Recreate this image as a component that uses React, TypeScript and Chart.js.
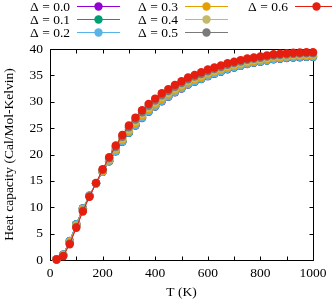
import React, { useEffect, useRef } from "react";
import { Chart, registerables } from "chart.js";

Chart.register(...registerables);

const temps = [25, 50, 75, 100, 125, 150, 175, 200, 225, 250, 275, 300, 325, 350, 375, 400, 425, 450, 475, 500, 525, 550, 575, 600, 625, 650, 675, 700, 725, 750, 775, 800, 825, 850, 875, 900, 925, 950, 975, 1000];

const d00 = [0.15, 1.0, 3.6, 6.8, 9.8, 12.2, 14.5, 16.7, 18.7, 20.6, 22.4, 24.1, 25.5, 26.9, 28.1, 29.1, 30.1, 30.95, 31.8, 32.5, 33.25, 33.8, 34.3, 34.85, 35.3, 35.7, 36.15, 36.5, 36.8, 37.15, 37.4, 37.6, 37.8, 38.05, 38.15, 38.3, 38.4, 38.45, 38.5, 38.5];
const d01 = [0.15, 0.99, 3.58, 6.78, 9.78, 12.19, 14.5, 16.72, 18.72, 20.63, 22.44, 24.14, 25.55, 26.95, 28.15, 29.15, 30.15, 30.99, 31.84, 32.54, 33.29, 33.84, 34.34, 34.89, 35.34, 35.74, 36.18, 36.53, 36.83, 37.18, 37.43, 37.63, 37.83, 38.08, 38.18, 38.33, 38.43, 38.48, 38.53, 38.53];
const d02 = [0.15, 0.98, 3.56, 6.75, 9.76, 12.19, 14.51, 16.73, 18.76, 20.68, 22.49, 24.2, 25.6, 27.0, 28.2, 29.2, 30.2, 31.05, 31.9, 32.6, 33.34, 33.89, 34.39, 34.94, 35.38, 35.78, 36.23, 36.58, 36.88, 37.22, 37.47, 37.67, 37.87, 38.12, 38.22, 38.36, 38.46, 38.51, 38.56, 38.56];
const d03 = [0.14, 0.92, 3.43, 6.6, 9.63, 12.14, 14.53, 16.84, 18.92, 20.91, 22.76, 24.49, 25.92, 27.32, 28.52, 29.52, 30.52, 31.36, 32.19, 32.89, 33.63, 34.16, 34.66, 35.2, 35.64, 36.04, 36.47, 36.81, 37.11, 37.44, 37.68, 37.88, 38.08, 38.32, 38.42, 38.55, 38.65, 38.7, 38.75, 38.75];
const d04 = [0.13, 0.85, 3.3, 6.45, 9.5, 12.1, 14.55, 16.95, 19.1, 21.15, 23.05, 24.8, 26.25, 27.65, 28.85, 29.85, 30.85, 31.67, 32.5, 33.2, 33.92, 34.45, 34.95, 35.47, 35.9, 36.3, 36.72, 37.05, 37.35, 37.67, 37.9, 38.1, 38.3, 38.52, 38.62, 38.75, 38.85, 38.9, 38.95, 38.95];
const d05 = [0.11, 0.78, 3.15, 6.28, 9.35, 12.05, 14.57, 17.07, 19.3, 21.42, 23.37, 25.15, 26.62, 28.02, 29.22, 30.22, 31.22, 32.04, 32.85, 33.55, 34.26, 34.77, 35.27, 35.79, 36.2, 36.6, 37.01, 37.32, 37.62, 37.94, 38.15, 38.35, 38.55, 38.76, 38.86, 38.97, 39.07, 39.12, 39.17, 39.17];
const d06 = [0.1, 0.7, 3.0, 6.1, 9.2, 12.0, 14.6, 17.2, 19.5, 21.7, 23.7, 25.5, 27.0, 28.4, 29.6, 30.6, 31.6, 32.4, 33.2, 33.9, 34.6, 35.1, 35.6, 36.1, 36.5, 36.9, 37.3, 37.6, 37.9, 38.2, 38.4, 38.6, 38.8, 39.0, 39.1, 39.2, 39.3, 39.35, 39.4, 39.4];

const seriesLabels = ["Δ = 0.0", "Δ = 0.1", "Δ = 0.2", "Δ = 0.3", "Δ = 0.4", "Δ = 0.5", "Δ = 0.6"];
const seriesValues = [d00, d01, d02, d03, d04, d05, d06];
const seriesColors = ["#9400d3", "#009e73", "#56b4e9", "#e69f00", "#c4b86a", "#7a7a7a", "#e51e10"];

const xTicks = [0, 200, 400, 600, 800, 1000];
const yTicks = [0, 5, 10, 15, 20, 25, 30, 35, 40];

const FONT = "'Liberation Serif', 'Times New Roman', serif";
const FS = 13.5;

const framePlugin = {
  id: "frame",
  beforeDatasetsDraw(chart: any) {
    const { ctx, chartArea, scales } = chart;
    const { left, right, top, bottom } = chartArea;
    ctx.save();
    ctx.strokeStyle = "#000";
    ctx.lineWidth = 1;
    const L = Math.round(left) + 0.5;
    const R = Math.round(right) + 0.5;
    const T = Math.round(top) + 0.5;
    const B = Math.round(bottom) + 0.5;
    ctx.beginPath();
    ctx.rect(L, T, R - L, B - T);
    ctx.stroke();
    const tl = 4;
    ctx.beginPath();
    scales.x.ticks.forEach((t: any) => {
      const px = Math.round(scales.x.getPixelForValue(t.value)) + 0.5;
      ctx.moveTo(px, B);
      ctx.lineTo(px, B - tl);
      ctx.moveTo(px, T);
      ctx.lineTo(px, T + tl);
    });
    scales.y.ticks.forEach((t: any) => {
      const py = Math.round(scales.y.getPixelForValue(t.value)) + 0.5;
      ctx.moveTo(L, py);
      ctx.lineTo(L + tl, py);
      ctx.moveTo(R, py);
      ctx.lineTo(R - tl, py);
    });
    ctx.stroke();
    ctx.restore();
  },
};

const legendPlugin = {
  id: "gpLegend",
  afterDraw(chart: any) {
    const { ctx } = chart;
    const textRight = [70, 178, 288];
    const rowY = [6.5, 19.5, 32.5];
    ctx.save();
    ctx.font = `${FS}px ${FONT}`;
    ctx.textAlign = "right";
    ctx.textBaseline = "middle";
    chart.data.datasets.forEach((ds: any, i: number) => {
      const col = Math.floor(i / 3);
      const row = i % 3;
      const tx = textRight[col];
      const y = rowY[row];
      ctx.fillStyle = "#000";
      ctx.fillText(ds.label, tx, y + 0.5);
      const x0 = tx + 7;
      const x1 = x0 + 43;
      ctx.strokeStyle = ds.borderColor;
      ctx.lineWidth = 1;
      ctx.beginPath();
      ctx.moveTo(x0, y);
      ctx.lineTo(x1, y);
      ctx.stroke();
      ctx.fillStyle = ds.backgroundColor;
      ctx.beginPath();
      ctx.arc((x0 + x1) / 2, y, 4.2, 0, Math.PI * 2);
      ctx.fill();
    });
    ctx.restore();
  },
};

export default function App() {
  const ref = useRef<HTMLCanvasElement | null>(null);
  useEffect(() => {
    if (!ref.current) return;
    Chart.defaults.font.family = FONT;
    Chart.defaults.font.size = FS;
    Chart.defaults.color = "#000";
    const n = seriesValues.length;
    const datasets = seriesValues.map((vals, i) => ({
      label: seriesLabels[i],
      data: temps.map((t, j) => ({ x: t, y: vals[j] })),
      borderColor: seriesColors[i],
      backgroundColor: seriesColors[i],
      borderWidth: 1,
      pointRadius: 4.2,
      pointBorderWidth: 0,
      pointHoverRadius: 4.2,
      clip: false as any,
      tension: 0,
      order: n - 1 - i,
    }));
    const chart = new Chart(ref.current, {
      type: "line",
      data: { datasets },
      options: {
        animation: false,
        responsive: false,
        maintainAspectRatio: false,
        layout: { padding: { top: 49, right: 19, left: 0, bottom: 0 } },
        plugins: { legend: { display: false }, tooltip: { enabled: false } },
        scales: {
          x: {
            type: "linear",
            min: 0,
            max: 1000,
            grid: { display: false, drawTicks: false },
            border: { display: false },
            ticks: {
              stepSize: 100,
              autoSkip: false,
              maxRotation: 0,
              padding: 5,
              callback: (v: any) => (xTicks.includes(Number(v)) ? String(v) : ""),
            },
            title: { display: true, text: "T (K)", padding: { top: 0, bottom: 0 } },
            afterFit: (s: any) => {
              s.height = 41;
            },
          },
          y: {
            type: "linear",
            min: 0,
            max: 40,
            grid: { display: false, drawTicks: false },
            border: { display: false },
            ticks: {
              stepSize: 5,
              padding: 7,
              callback: (v: any) => (yTicks.includes(Number(v)) ? String(v) : ""),
            },
            title: { display: true, text: "Heat capacity (Cal/Mol-Kelvin)", padding: { top: 1, bottom: 0 } },
            afterFit: (s: any) => {
              s.width = 50;
            },
          },
        },
      },
      plugins: [framePlugin, legendPlugin],
    });
    return () => chart.destroy();
  }, []);
  return (
    <div style={{ position: "absolute", left: 0, top: 0, width: 332, height: 301 }}>
      <canvas ref={ref} width={332} height={301} style={{ width: 332, height: 301, display: "block" }} />
    </div>
  );
}
